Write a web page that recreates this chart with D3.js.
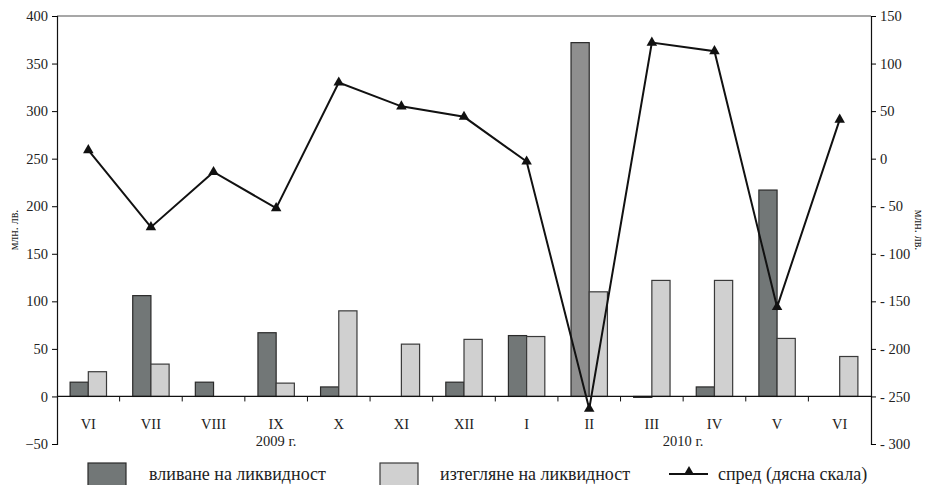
<!DOCTYPE html>
<html>
<head>
<meta charset="utf-8">
<script src="https://cdn.jsdelivr.net/npm/d3@7"></script>
<style>
  body { margin: 0; background: #fff; }
  svg { display: block; }
  text { font-family: "Liberation Serif", "DejaVu Serif", serif; fill: #222; }
</style>
</head>
<body>
<svg id="chart" width="930" height="485"></svg>
<script>
// months on the x axis
var months = ["VI", "VII", "VIII", "IX", "X", "XI", "XII", "I", "II", "III", "IV", "V", "VI"];
var years = [{label: "2009 г.", from: 0, to: 6}, {label: "2010 г.", from: 7, to: 12}];

// млн. лв., left scale
var inflow = [15, 106, 15, 67, 10, 0, 15, 64, 372, -1, 10, 217, 0];
var outflow = [26, 34, 0, 14, 90, 55, 60, 63, 110, 122, 122, 61, 42];
// spread, right scale
var spread = [9, -72, -14, -52, 80, 55, 44, -3, -263, 122, 113, -156, 41];

var leftTicks = [-50, 0, 50, 100, 150, 200, 250, 300, 350, 400];
var rightTicks = [-300, -250, -200, -150, -100, -50, 0, 50, 100, 150];

var seriesNames = ["вливане на ликвидност", "изтегляне на ликвидност", "спред (дясна скала)"];

var svg = d3.select("#chart");
var plotL = 57, plotR = 871, plotT = 16, plotB = 444;

var x = d3.scaleBand().domain(d3.range(months.length)).range([plotL, plotR]);
var xInner = d3.scaleBand().domain([0, 1]).range([0, x.bandwidth()]).paddingInner(0).paddingOuter(0.72);
var yL = d3.scaleLinear().domain([-50, 400]).range([plotB, plotT]);
var yR = d3.scaleLinear().domain([-300, 150]).range([plotB, plotT]);

// top frame line
svg.append("line")
   .attr("x1", plotL).attr("x2", plotR)
   .attr("y1", plotT).attr("y2", plotT)
   .style("stroke", "#8a8a8a").style("stroke-width", 1.5);

// bars
var darkFill = "#727777", lightFill = "#d0d0d0";
svg.selectAll(".inflow")
   .data(inflow)
   .enter()
   .append("rect")
   .attr("class", "inflow")
   .attr("x", function(d, i) { return x(i) + xInner(0); })
   .attr("width", xInner.bandwidth())
   .attr("y", function(d) { return Math.min(yL(d), yL(0)); })
   .attr("height", function(d) { return Math.abs(yL(d) - yL(0)); })
   .style("fill", function(d, i) { return i == 8 ? "#8f8f8f" : darkFill; })
   .style("stroke", "#2a2a2a").style("stroke-width", 1.2);

svg.selectAll(".outflow")
   .data(outflow)
   .enter()
   .append("rect")
   .attr("class", "outflow")
   .attr("x", function(d, i) { return x(i) + xInner(1); })
   .attr("width", xInner.bandwidth())
   .attr("y", function(d) { return Math.min(yL(d), yL(0)); })
   .attr("height", function(d) { return Math.abs(yL(d) - yL(0)); })
   .style("fill", lightFill)
   .style("stroke", "#3a3a3a").style("stroke-width", 1.2);

// zero line with category ticks
var zg = svg.append("g").attr("transform", "translate(0," + yL(0) + ")");
zg.append("line").attr("x1", plotL).attr("x2", plotR).style("stroke", "#111").style("stroke-width", 1.2);
zg.selectAll(".ct")
   .data(d3.range(1, months.length))
   .enter()
   .append("line")
   .attr("x1", function(d) { return x(d); })
   .attr("x2", function(d) { return x(d); })
   .attr("y1", 0).attr("y2", 5)
   .style("stroke", "#111");

// month labels
svg.selectAll(".month")
   .data(months)
   .enter()
   .append("text")
   .attr("x", function(d, i) { return x(i) + x.bandwidth() / 2; })
   .attr("y", 429)
   .attr("text-anchor", "middle")
   .style("font-size", "14.5px")
   .text(function(d) { return d; });

svg.selectAll(".year")
   .data(years)
   .enter()
   .append("text")
   .attr("x", function(d) { return (x(d.from) + x(d.to) + x.bandwidth()) / 2; })
   .attr("y", 446)
   .attr("text-anchor", "middle")
   .style("font-size", "14.5px")
   .text(function(d) { return d.label; });

// left axis
var gl = svg.append("g").attr("transform", "translate(" + plotL + ",0)")
   .call(d3.axisLeft(yL).tickValues(leftTicks).tickSize(5).tickPadding(4));
gl.select(".domain").style("stroke", "#111").style("stroke-width", 1.2);
gl.selectAll(".tick text").style("font-size", "14.5px").style("font-family", "Liberation Serif").attr("fill", "#222");

// right axis
var gr = svg.append("g").attr("transform", "translate(" + plotR + ",0)")
   .call(d3.axisRight(yR).tickValues(rightTicks).tickSize(5).tickPadding(4)
   .tickFormat(function(d) { return d < 0 ? "- " + (-d) : d; }));
gr.select(".domain").style("stroke", "#111").style("stroke-width", 1.2);
gr.selectAll(".tick text").style("font-size", "14.5px").style("font-family", "Liberation Serif")
  .style("white-space", "pre").attr("fill", "#222");

// unit labels
svg.append("text")
   .attr("transform", "translate(18,230) rotate(-90)")
   .attr("text-anchor", "middle")
   .style("font-size", "12px")
   .text("млн. лв.");
svg.append("text")
   .attr("transform", "translate(915,230) rotate(90)")
   .attr("text-anchor", "middle")
   .style("font-size", "12px")
   .text("млн. лв.");

// spread line
var line = d3.line()
   .x(function(d, i) { return x(i) + x.bandwidth() / 2; })
   .y(function(d) { return yR(d); });
svg.append("path")
   .datum(spread)
   .attr("d", line)
   .style("fill", "none")
   .style("stroke", "#111")
   .style("stroke-width", 2);

var tri = d3.symbol().type(d3.symbolTriangle).size(48);
svg.selectAll(".mark")
   .data(spread)
   .enter()
   .append("path")
   .attr("d", tri)
   .attr("transform", function(d, i) { return "translate(" + (x(i) + x.bandwidth() / 2) + "," + yR(d) + ")"; })
   .style("fill", "#111");

// legend
var lg = svg.append("g");
lg.append("rect").attr("x", 88).attr("y", 463).attr("width", 38).attr("height", 30)
  .style("fill", darkFill).style("stroke", "#2a2a2a").style("stroke-width", 1.2);
lg.append("text").attr("x", 149).attr("y", 480).style("font-size", "18px").text(seriesNames[0]);
lg.append("rect").attr("x", 380).attr("y", 463).attr("width", 38).attr("height", 30)
  .style("fill", lightFill).style("stroke", "#3a3a3a").style("stroke-width", 1.2);
lg.append("text").attr("x", 440).attr("y", 480).style("font-size", "18px").text(seriesNames[1]);
lg.append("line").attr("x1", 669).attr("x2", 708).attr("y1", 474).attr("y2", 474)
  .style("stroke", "#111").style("stroke-width", 2);
lg.append("path").attr("d", tri).attr("transform", "translate(689,472)").style("fill", "#111");
lg.append("text").attr("x", 718).attr("y", 480).style("font-size", "18px").text(seriesNames[2]);
</script>
</body>
</html>
